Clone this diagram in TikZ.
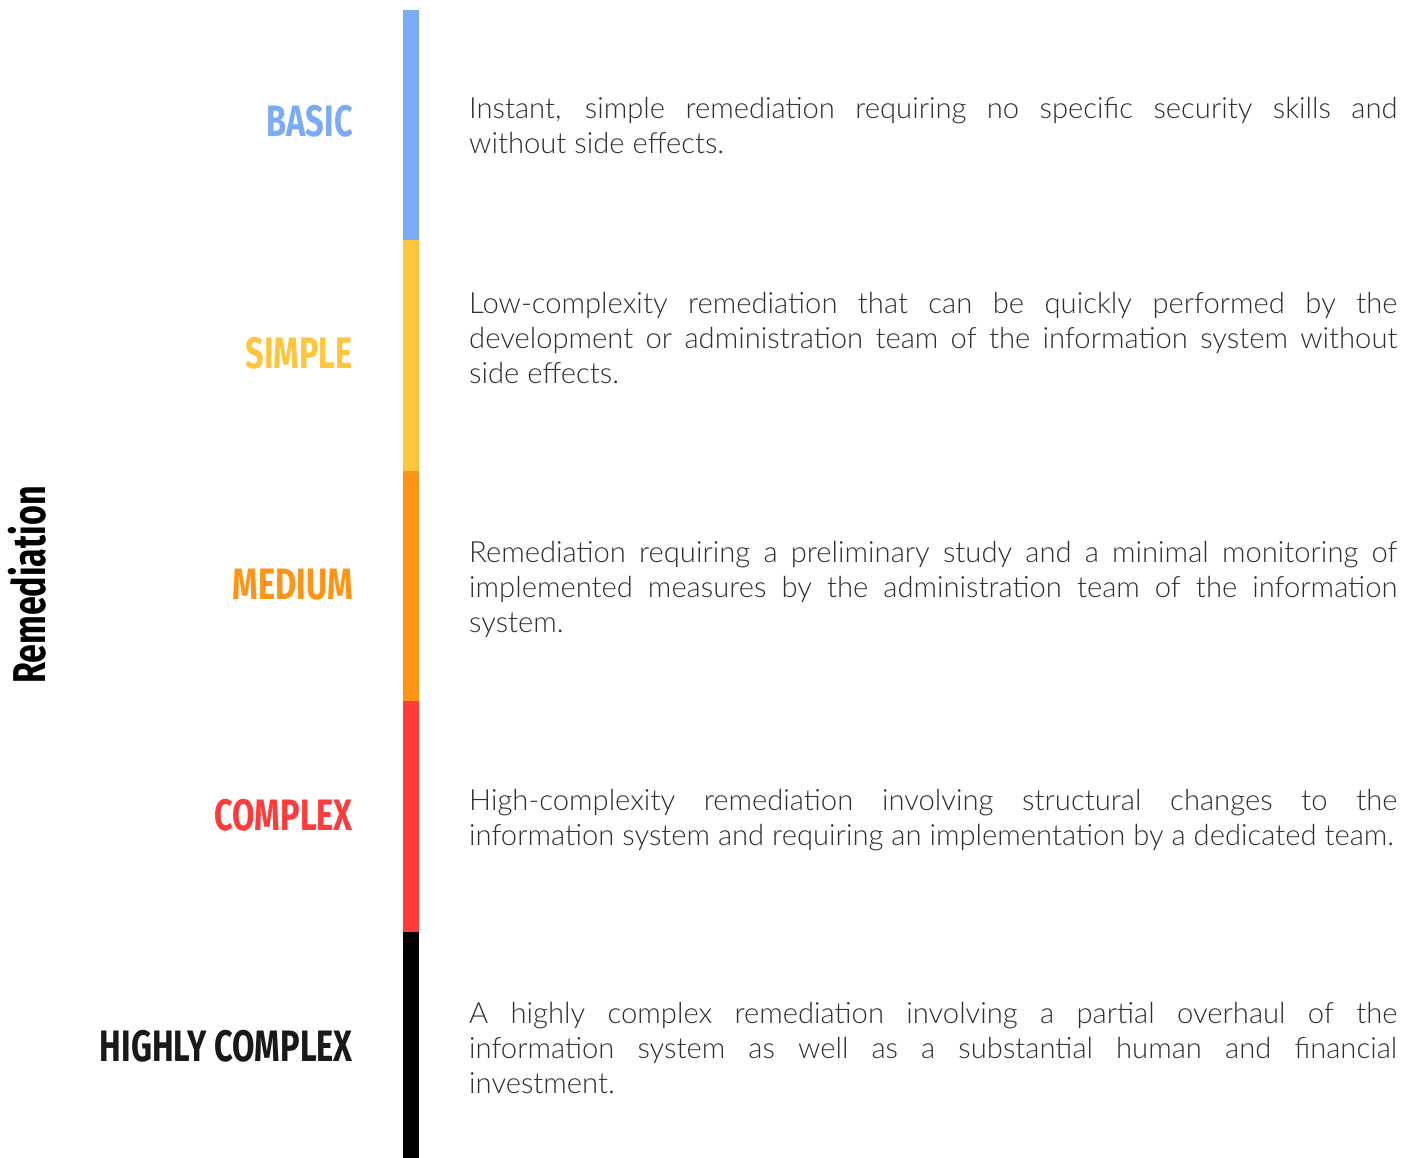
\documentclass[tikz,border=0pt]{standalone}
\usepackage{fontspec}
\newfontfamily\bodyfont{Lato Light}
\newfontfamily\headfont{Fira Sans}[FakeStretch=0.74]
\definecolor{lvbasic}{HTML}{7BAAF7}
\definecolor{lvsimple}{HTML}{FFC53D}
\definecolor{lvmedium}{HTML}{FF9414}
\definecolor{lvcomplex}{HTML}{FF3B3B}
\definecolor{lvhigh}{HTML}{000000}
\definecolor{bodygray}{HTML}{2E2E2E}
% justified description block, no hyphenation, explicit breaks
\newcommand{\descblock}[1]{\parbox[t]{928pt}{\hyphenpenalty=10000\exhyphenpenalty=10000
  \hbadness=10000\tolerance=10000\emergencystretch=0pt #1}}
\begin{document}
\begin{tikzpicture}[x=1pt,y=-1pt,
  level/.style={anchor=base east,inner sep=0pt,font=\headfont\bfseries\fontsize{44}{44}\selectfont},
  desc/.style={anchor=base west,inner sep=0pt,text=bodygray,
    font=\bodyfont\fontsize{29.2}{35}\selectfont}]
\useasboundingbox (0,0) rectangle (1403,1158);
% colour scale bar
\fill[lvbasic]   (403,10)  rectangle (419,240);
\fill[lvsimple]  (403,240) rectangle (419,471);
\fill[lvmedium]  (403,471) rectangle (419,701);
\fill[lvcomplex] (403,701) rectangle (419,932);
\fill[lvhigh]    (403,932) rectangle (419,1158);
% axis title
\node[rotate=90,anchor=base,inner sep=0pt,text=black,
  font=\headfont\bfseries\fontsize{46}{46}\selectfont] (axis) at (45,585) {Remediation};
% level names
\node[level,text=lvbasic]   (basic)   at (353,137)  {BASIC};
\node[level,text=lvsimple]  (simple)  at (353,368)  {SIMPLE};
\node[level,text=lvmedium]  (medium)  at (353,599)  {MEDIUM};
\node[level,text=lvcomplex] (complex) at (353,830)  {COMPLEX};
\node[level,text=black!90]  (highly)  at (353,1061) {HIGHLY COMPLEX};
% descriptions
\node[desc] (dbasic) at (469,119) {\descblock{Instant, simple remediation requiring no specific security skills and\linebreak without side effects.}};
\node[desc] (dsimple) at (469,314) {\descblock{Low-complexity remediation that can be quickly performed by the\linebreak development or administration team of the information system without\linebreak side effects.}};
\node[desc] (dmedium) at (469,562) {\descblock{Remediation requiring a preliminary study and a minimal monitoring of\linebreak implemented measures by the administration team of the information\linebreak system.}};
\node[desc] (dcomplex) at (469,810) {\descblock{High-complexity remediation involving structural changes to the\linebreak information system and requiring an implementation by a dedicated team.}};
\node[desc] (dhigh) at (469,1023) {\descblock{A highly complex remediation involving a partial overhaul of the\linebreak information system as well as a substantial human and financial\linebreak investment.}};
\end{tikzpicture}
\end{document}
